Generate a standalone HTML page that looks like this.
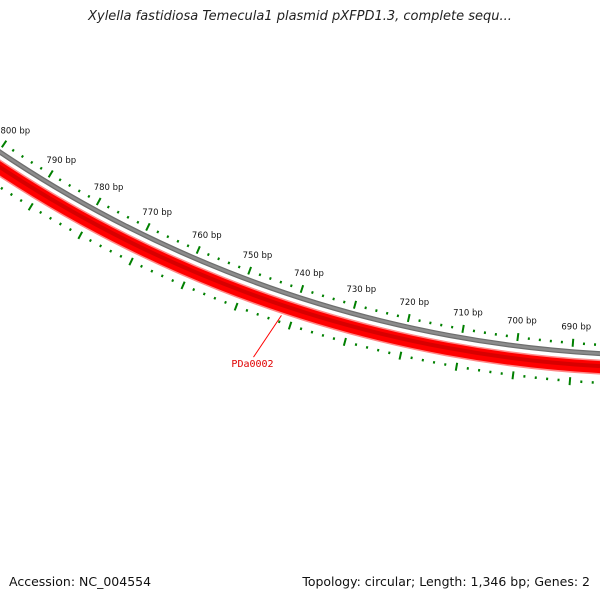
<!DOCTYPE html>
<html><head><meta charset="utf-8"><style>
html,body{margin:0;padding:0;background:#fff;}
#wrap{position:relative;width:600px;height:600px;overflow:hidden;background:#fff;font-family:"DejaVu Sans","Liberation Sans",sans-serif;}
.title{position:absolute;left:0;top:9px;width:600px;text-align:center;font-style:italic;font-size:13px;color:#222;}
.foot{position:absolute;top:574px;font-size:12.5px;color:#111;}
</style></head><body>
<div id="wrap">
<div class="title">Xylella fastidiosa Temecula1 plasmid pXFPD1.3, complete sequ...</div>
<svg id="map" width="600" height="600" style="position:absolute;left:0;top:0"></svg>
<div class="foot" style="left:9px">Accession: NC_004554</div>
<div class="foot" style="right:10px">Topology: circular; Length: 1,346 bp; Genes: 2</div>
</div>
<script>
const seqLength = 1346;
const labelBp = [690,700,710,720,730,740,750,760,770,780,790,800];
const geneNames = ["PDa0002"];
const geneLabelBp = [742];

const CX = 667, CY = -840;
const NS = "http://www.w3.org/2000/svg";
const svg = document.getElementById('map');
function ang(bp){ return (bp - seqLength/2) * 2*Math.PI/seqLength; }
function pt(bp, r){ const a = ang(bp); return [CX - r*Math.sin(a), CY + r*Math.cos(a)]; }
function mk(tag, attrs){ const e = document.createElementNS(NS, tag); for (const k in attrs) e.setAttribute(k, attrs[k]); svg.appendChild(e); return e; }

// backbone rings
function ring(r, w, color, name){
  const c = mk('circle', {cx:CX, cy:CY, r:r, fill:'none', stroke:color, 'stroke-width':w});
  
  
}
ring(1195.5, 5, '#6e6e6e', 'backbone-ring');
ring(1195.5, 2.5, '#8c8c8c', 'backbone-ring-core');
ring(1209, 15, '#ff8a8a', 'gene-pda0002-edge');
ring(1209, 12, '#ff0000', 'gene-pda0002');
ring(1208, 4, '#d80000', 'gene-pda0002-core');

// ticks
function tick(bp, r1, r2, w, name){
  const p1 = pt(bp, r1), p2 = pt(bp, r2);
  const l = mk('line', {x1:p1[0], y1:p1[1], x2:p2[0], y2:p2[1], stroke:'#008000', 'stroke-width':w});
  
  
}
for (let b = 670; b <= 812; b += 2){
  const major = b % 10 === 0;
  if (major){ tick(b, 1182.5, 1190.5, 2, 'major-tick-inner'); tick(b, 1221, 1229, 2, 'major-tick-outer'); }
  else { tick(b, 1185.5, 1188, 2, 'minor-tick-inner'); tick(b, 1223.5, 1226, 2, 'minor-tick-outer'); }
}
// labels
labelBp.forEach(b => {
  const p = pt(b, 1170);
  const t = mk('text', {x:p[0]+2, y:p[1]+3, 'text-anchor':'middle', 'font-size':'8.5', fill:'#111', 'font-family':'"DejaVu Sans","Liberation Sans",sans-serif'});
  t.textContent = b + ' bp';
  
  
});
// gene label
geneNames.forEach((g, i) => {
  const p1 = pt(geneLabelBp[i], 1218), p2 = pt(geneLabelBp[i], 1262);
  const l = mk('line', {x1:p1[0], y1:p1[1], x2:p2[0]-14, y2:p2[1], stroke:'#ff0000', 'stroke-width':1});
  
  
  const t = mk('text', {x:p2[0]-15, y:p2[1]+10, 'text-anchor':'middle', 'font-size':'10', fill:'#e00000', 'font-family':'"DejaVu Sans Mono","Liberation Mono",monospace'});
  t.textContent = g;
  
  
});
</script>
</body></html>
